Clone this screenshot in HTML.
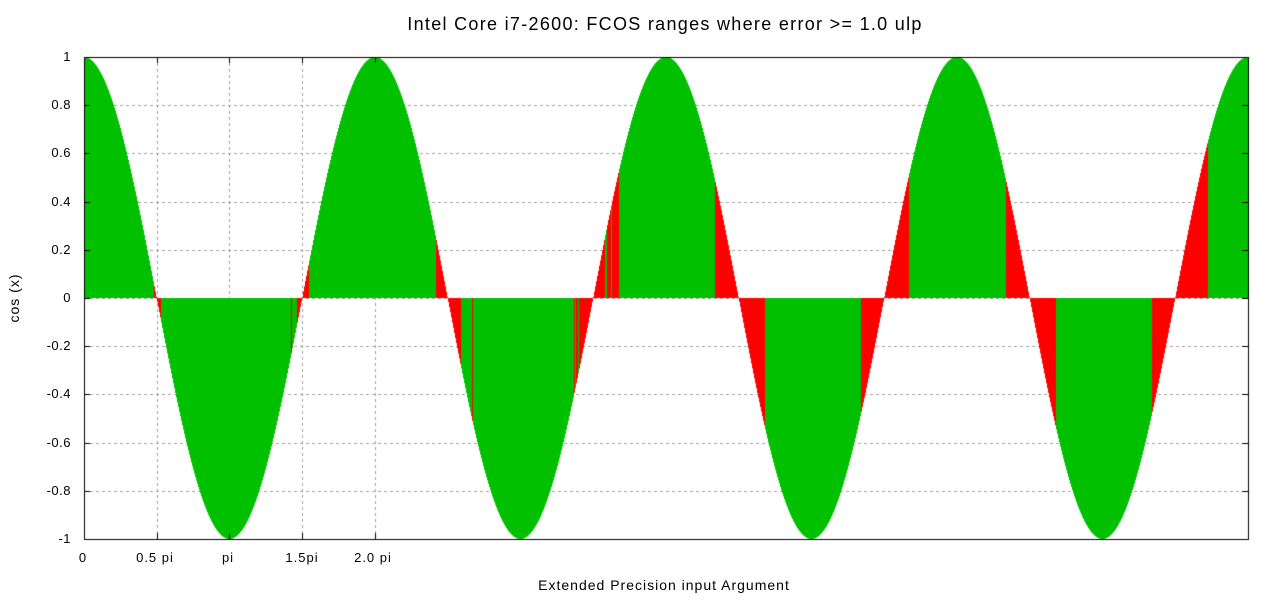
<!DOCTYPE html>
<html><head><meta charset="utf-8"><style>
body{margin:0;background:#fff;width:1280px;height:600px;overflow:hidden;position:relative;font-family:"Liberation Sans",sans-serif;color:#000}
canvas{position:absolute;left:0;top:0}
.t{position:absolute;font-size:13px;white-space:nowrap}
.yl{position:absolute;font-size:13px;right:1209px;text-align:right;letter-spacing:0.5px}
.xl{position:absolute;font-size:13px;top:550px;transform:translateX(-50%);letter-spacing:1px}
</style></head><body>
<canvas id="c" width="1280" height="600"></canvas>
<div class="t" style="left:665px;top:14px;font-size:18px;letter-spacing:1.3px;transform:translateX(-50%)">Intel Core i7-2600: FCOS ranges where error &gt;= 1.0 ulp</div>
<div class="yl" style="top:49px">1</div>
<div class="yl" style="top:97px">0.8</div>
<div class="yl" style="top:145px">0.6</div>
<div class="yl" style="top:194px">0.4</div>
<div class="yl" style="top:242px">0.2</div>
<div class="yl" style="top:290px">0</div>
<div class="yl" style="top:338px">-0.2</div>
<div class="yl" style="top:386px">-0.4</div>
<div class="yl" style="top:435px">-0.6</div>
<div class="yl" style="top:483px">-0.8</div>
<div class="yl" style="top:531px">-1</div>
<div class="xl" style="left:83px">0</div>
<div class="xl" style="left:155px">0.5 pi</div>
<div class="xl" style="left:228px">pi</div>
<div class="xl" style="left:302px">1.5pi</div>
<div class="xl" style="left:373px">2.0 pi</div>
<div class="t" style="left:664px;top:577px;transform:translateX(-50%);font-size:14px;letter-spacing:1px">Extended Precision input Argument</div>
<div class="t" style="left:14px;top:298px;transform:translate(-50%,-50%) rotate(-90deg);font-size:14px;letter-spacing:1px">cos (x)</div>
<script>
const c=document.getElementById('c').getContext('2d');
const L=84,R=1248,T=57,B=539,Z=298,P=145.5;
c.strokeStyle='#a0a0a0';c.setLineDash([3,3]);c.lineWidth=1;
for(let i=1;i<10;i++){const y=Math.round(T+(B-T)*i/10)+.5;c.beginPath();c.moveTo(L,y);c.lineTo(R,y);c.stroke();}
[157,229,302,375].forEach(x=>{c.beginPath();c.moveTo(x+.5,T);c.lineTo(x+.5,B);c.stroke();});
c.setLineDash([]);
const red=[[154,161],[291,292],[297,309],[436,461],[472,473],[574,575],[576,578],[579,605],[607,611],[612,619],[715,765],[861,909],[1006,1056],[1152,1208]];
for(let x=L;x<R;x++){
 const v=Math.cos((x+0.5-L)/P*Math.PI);
 const y=Z-v*(Z-T);
 const isR=red.some(r=>x>=r[0]&&x<r[1]);
 c.fillStyle=isR?'#ff0000':'#00c000';
 if(v>=0)c.fillRect(x,y,1,Z-y);else c.fillRect(x,Z,1,y-Z);
}
c.strokeStyle='#000';c.lineWidth=1;c.strokeRect(L+.5,T+.5,R-L,B-T);
c.beginPath();
for(let i=0;i<=10;i++){const y=Math.round(T+(B-T)*i/10)+.5;c.moveTo(L,y);c.lineTo(L+6,y);c.moveTo(R,y);c.lineTo(R-6,y);}
[84,157,229,302,375].forEach(x=>{c.moveTo(x+.5,B);c.lineTo(x+.5,B-6);c.moveTo(x+.5,T);c.lineTo(x+.5,T+6);});
c.stroke();
</script>
</body></html>
